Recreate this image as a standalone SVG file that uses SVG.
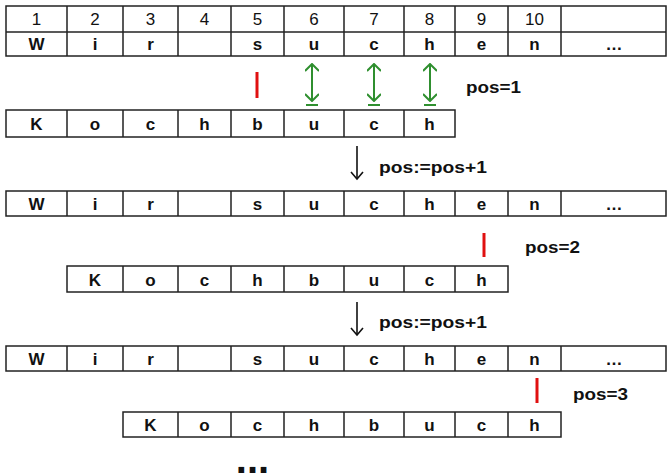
<svg xmlns="http://www.w3.org/2000/svg" width="667" height="474" viewBox="0 0 667 474">
<style>
.cell{fill:#fff;stroke:#222;stroke-width:1.5}
.ln{stroke:#222;stroke-width:1.5}
.num{font-family:"Liberation Sans",Arial,sans-serif;font-size:17px;text-anchor:middle;fill:#111}
.ch{font-family:"Liberation Sans",Arial,sans-serif;font-size:17px;font-weight:bold;text-anchor:middle;fill:#111}
.lbl{font-family:"Liberation Sans",Arial,sans-serif;font-size:17px;font-weight:bold;fill:#111}
.red{stroke:#e01010;stroke-width:3}
.grn{stroke:#2f8f2f;stroke-width:2;fill:none}
.blk{stroke:#111;stroke-width:1.6;fill:none}
</style>
<defs>
<marker id="gh" viewBox="0 0 10 14" refX="9" refY="7" markerWidth="10" markerHeight="14" markerUnits="userSpaceOnUse" orient="auto-start-reverse">
<path d="M2,0 L9,7 L2,14" fill="none" stroke="#2f8f2f" stroke-width="2"/>
</marker>
<marker id="bh" viewBox="0 0 14 10" refX="10" refY="5" markerWidth="14" markerHeight="14" markerUnits="userSpaceOnUse" orient="auto">
<path d="M3,-1 L10,5 L3,11" fill="none" stroke="#111" stroke-width="1.6"/>
</marker>
</defs>

<!-- Text row 1 with index header -->
<g id="text1">
<rect class="cell" x="6" y="6" width="660" height="50"/>
<line class="ln" x1="6" y1="32" x2="666" y2="32"/>
<path class="ln" d="M67,6V56M123,6V56M178,6V56M231,6V56M284,6V56M344,6V56M404,6V56M455,6V56M508,6V56M561,6V56"/>
<text class="num" x="36.5" y="25">1</text>
<text class="num" x="95" y="25">2</text>
<text class="num" x="150.5" y="25">3</text>
<text class="num" x="204.5" y="25">4</text>
<text class="num" x="257.5" y="25">5</text>
<text class="num" x="314" y="25">6</text>
<text class="num" x="374" y="25">7</text>
<text class="num" x="429.5" y="25">8</text>
<text class="num" x="481.5" y="25">9</text>
<text class="num" x="534.5" y="25">10</text>
<text class="ch" x="36.5" y="50">W</text>
<text class="ch" x="95" y="50">i</text>
<text class="ch" x="150.5" y="50">r</text>
<text class="ch" x="257.5" y="50">s</text>
<text class="ch" x="314" y="50">u</text>
<text class="ch" x="374" y="50">c</text>
<text class="ch" x="429.5" y="50">h</text>
<text class="ch" x="481.5" y="50">e</text>
<text class="ch" x="534.5" y="50">n</text>
<text class="ch" x="614" y="50">…</text>
</g>

<!-- Pattern row 1 -->
<g id="pattern1">
<rect class="cell" x="6" y="110" width="449" height="27"/>
<path class="ln" d="M67,110V137M123,110V137M178,110V137M231,110V137M284,110V137M344,110V137M404,110V137"/>
<text class="ch" x="36.5" y="130">K</text>
<text class="ch" x="95" y="130">o</text>
<text class="ch" x="150.5" y="130">c</text>
<text class="ch" x="204.5" y="130">h</text>
<text class="ch" x="257.5" y="130">b</text>
<text class="ch" x="314" y="130">u</text>
<text class="ch" x="374" y="130">c</text>
<text class="ch" x="429.5" y="130">h</text>
</g>

<!-- Text row 2 -->
<g id="text2">
<rect class="cell" x="6" y="191" width="660" height="25"/>
<path class="ln" d="M67,191V216M123,191V216M178,191V216M231,191V216M284,191V216M344,191V216M404,191V216M455,191V216M508,191V216M561,191V216"/>
<text class="ch" x="36.5" y="209.5">W</text>
<text class="ch" x="95" y="209.5">i</text>
<text class="ch" x="150.5" y="209.5">r</text>
<text class="ch" x="257.5" y="209.5">s</text>
<text class="ch" x="314" y="209.5">u</text>
<text class="ch" x="374" y="209.5">c</text>
<text class="ch" x="429.5" y="209.5">h</text>
<text class="ch" x="481.5" y="209.5">e</text>
<text class="ch" x="534.5" y="209.5">n</text>
<text class="ch" x="614" y="209.5">…</text>
</g>

<!-- Pattern row 2 -->
<g id="pattern2">
<rect class="cell" x="67" y="266" width="441" height="26"/>
<path class="ln" d="M123,266V292M178,266V292M231,266V292M284,266V292M344,266V292M404,266V292M455,266V292"/>
<text class="ch" x="95" y="285.5">K</text>
<text class="ch" x="150.5" y="285.5">o</text>
<text class="ch" x="204.5" y="285.5">c</text>
<text class="ch" x="257.5" y="285.5">h</text>
<text class="ch" x="314" y="285.5">b</text>
<text class="ch" x="374" y="285.5">u</text>
<text class="ch" x="429.5" y="285.5">c</text>
<text class="ch" x="481.5" y="285.5">h</text>
</g>

<!-- Text row 3 -->
<g id="text3">
<rect class="cell" x="6" y="346" width="660" height="25"/>
<path class="ln" d="M67,346V371M123,346V371M178,346V371M231,346V371M284,346V371M344,346V371M404,346V371M455,346V371M508,346V371M561,346V371"/>
<text class="ch" x="36.5" y="364.5">W</text>
<text class="ch" x="95" y="364.5">i</text>
<text class="ch" x="150.5" y="364.5">r</text>
<text class="ch" x="257.5" y="364.5">s</text>
<text class="ch" x="314" y="364.5">u</text>
<text class="ch" x="374" y="364.5">c</text>
<text class="ch" x="429.5" y="364.5">h</text>
<text class="ch" x="481.5" y="364.5">e</text>
<text class="ch" x="534.5" y="364.5">n</text>
<text class="ch" x="614" y="364.5">…</text>
</g>

<!-- Pattern row 3 -->
<g id="pattern3">
<rect class="cell" x="123" y="412" width="438" height="25"/>
<path class="ln" d="M178,412V437M231,412V437M284,412V437M344,412V437M404,412V437M455,412V437M508,412V437"/>
<text class="ch" x="150.5" y="430.5">K</text>
<text class="ch" x="204.5" y="430.5">o</text>
<text class="ch" x="257.5" y="430.5">c</text>
<text class="ch" x="314" y="430.5">h</text>
<text class="ch" x="374" y="430.5">b</text>
<text class="ch" x="429.5" y="430.5">u</text>
<text class="ch" x="481.5" y="430.5">c</text>
<text class="ch" x="534.5" y="430.5">h</text>
</g>

<!-- Connectors and markers -->
<g id="connectors">
<line class="red" x1="257" y1="72" x2="257" y2="98"/>
<line class="red" x1="484" y1="233" x2="484" y2="257"/>
<line class="red" x1="537" y1="378" x2="537" y2="403"/>

<line class="grn" x1="312" y1="64" x2="312" y2="101" marker-start="url(#gh)" marker-end="url(#gh)"/>
<line class="grn" x1="306" y1="105" x2="318" y2="105"/>
<line class="grn" x1="374" y1="64" x2="374" y2="101" marker-start="url(#gh)" marker-end="url(#gh)"/>
<line class="grn" x1="368" y1="105" x2="380" y2="105"/>
<line class="grn" x1="430" y1="64" x2="430" y2="101" marker-start="url(#gh)" marker-end="url(#gh)"/>
<line class="grn" x1="424" y1="105" x2="436" y2="105"/>

<line class="blk" x1="357" y1="146" x2="357" y2="179" marker-end="url(#bh)"/>
<line class="blk" x1="357" y1="302" x2="357" y2="335" marker-end="url(#bh)"/>
</g>

<g id="labels">
<text class="lbl" x="466" y="93" textLength="55" lengthAdjust="spacingAndGlyphs">pos=1</text>
<text class="lbl" x="379" y="173" textLength="108" lengthAdjust="spacingAndGlyphs">pos:=pos+1</text>
<text class="lbl" x="525" y="253" textLength="55" lengthAdjust="spacingAndGlyphs">pos=2</text>
<text class="lbl" x="379" y="328" textLength="108" lengthAdjust="spacingAndGlyphs">pos:=pos+1</text>
<text class="lbl" x="573" y="400" textLength="55" lengthAdjust="spacingAndGlyphs">pos=3</text>
<text x="252.5" y="473" style="font-family:'Liberation Sans',Arial,sans-serif;font-size:40px;font-weight:bold;text-anchor:middle;fill:#111">...</text>
</g>
</svg>
